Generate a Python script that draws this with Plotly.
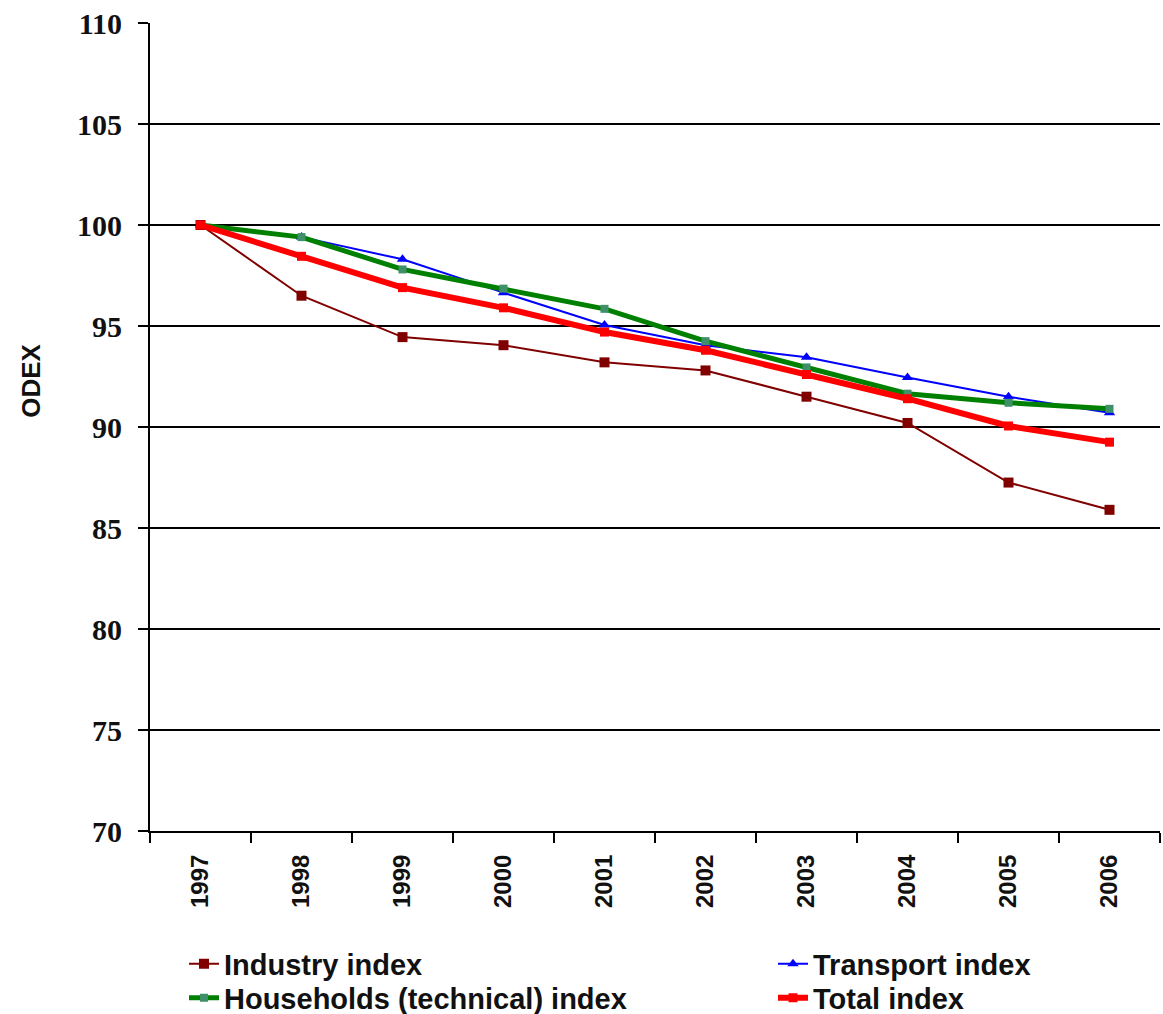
import plotly.graph_objects as go

years = ["1997", "1998", "1999", "2000", "2001", "2002", "2003", "2004", "2005", "2006"]
industry = [100.0, 96.5, 94.45, 94.05, 93.2, 92.8, 91.5, 90.2, 87.25, 85.9]
transport = [100.0, 99.4, 98.3, 96.65, 95.05, 94.05, 93.45, 92.45, 91.5, 90.7]
households = [100.0, 99.4, 97.8, 96.85, 95.85, 94.25, 92.95, 91.65, 91.2, 90.9]
total = [100.0, 98.45, 96.9, 95.9, 94.7, 93.8, 92.6, 91.4, 90.05, 89.25]
y_ticks = [70, 75, 80, 85, 90, 95, 100, 105, 110]

SANS = "Liberation Sans, Arial, sans-serif"
SERIF = "Liberation Serif, Times New Roman, serif"

fig = go.Figure()

fig.add_trace(go.Scatter(
    x=years, y=industry, name="Industry index", mode="lines+markers",
    line=dict(color="#800000", width=2),
    marker=dict(symbol="square", size=10, color="#800000"),
    legend="legend",
))
fig.add_trace(go.Scatter(
    x=years, y=transport, name="Transport index", mode="lines+markers",
    line=dict(color="#0000ff", width=2),
    marker=dict(symbol="triangle-up", size=10, color="#0000ff"),
    legend="legend2",
))
fig.add_trace(go.Scatter(
    x=years, y=households, name="Households (technical) index", mode="lines+markers",
    line=dict(color="#008000", width=5),
    marker=dict(symbol="square", size=8, color="#3f8f6a"),
    legend="legend3",
))
fig.add_trace(go.Scatter(
    x=years, y=total, name="Total index", mode="lines+markers",
    line=dict(color="#ff0000", width=6),
    marker=dict(symbol="square", size=9, color="#ff0000"),
    legend="legend4",
))

legend_font = dict(family=SANS, size=29, color="#111111", weight="bold")


def legend_box(x_px, y_px):
    return dict(
        xref="container", yref="container",
        x=x_px / 1163, y=1 - y_px / 1014,
        xanchor="left", yanchor="middle",
        font=legend_font, bgcolor="rgba(0,0,0,0)", itemwidth=30,
    )


fig.update_layout(
    width=1163, height=1014,
    margin=dict(l=150, r=3, t=23, b=183, autoexpand=False),
    paper_bgcolor="white", plot_bgcolor="white",
    showlegend=True,
    legend=legend_box(184, 964),
    legend2=legend_box(773, 964),
    legend3=legend_box(184, 998),
    legend4=legend_box(773, 998),
    annotations=[dict(
        text="ODEX", xref="paper", yref="paper", x=-0.118, y=0.557,
        textangle=-90, showarrow=False, xanchor="center", yanchor="middle",
        font=dict(family=SANS, size=26, color="#111111", weight="bold"),
    )],
)

fig.update_xaxes(
    type="category", range=[-0.5, 9.5], automargin=False,
    showline=True, linecolor="black", linewidth=2,
    ticks="outside", tickson="boundaries", ticklen=10, tickwidth=2, tickcolor="black",
    tickangle=-90, showgrid=False, ticklabelstandoff=12,
    tickfont=dict(family=SANS, size=24, color="#111111", weight="bold"),
)
fig.update_yaxes(
    range=[70, 110], tickvals=y_ticks, automargin=False,
    showline=True, linecolor="black", linewidth=2,
    ticks="outside", ticklen=10, tickwidth=2, tickcolor="black",
    showgrid=True, gridcolor="black", gridwidth=2, zeroline=False,
    ticklabelstandoff=10,
    tickfont=dict(family=SERIF, size=30, color="#111111", weight="bold"),
)

fig.write_html("out.html")
